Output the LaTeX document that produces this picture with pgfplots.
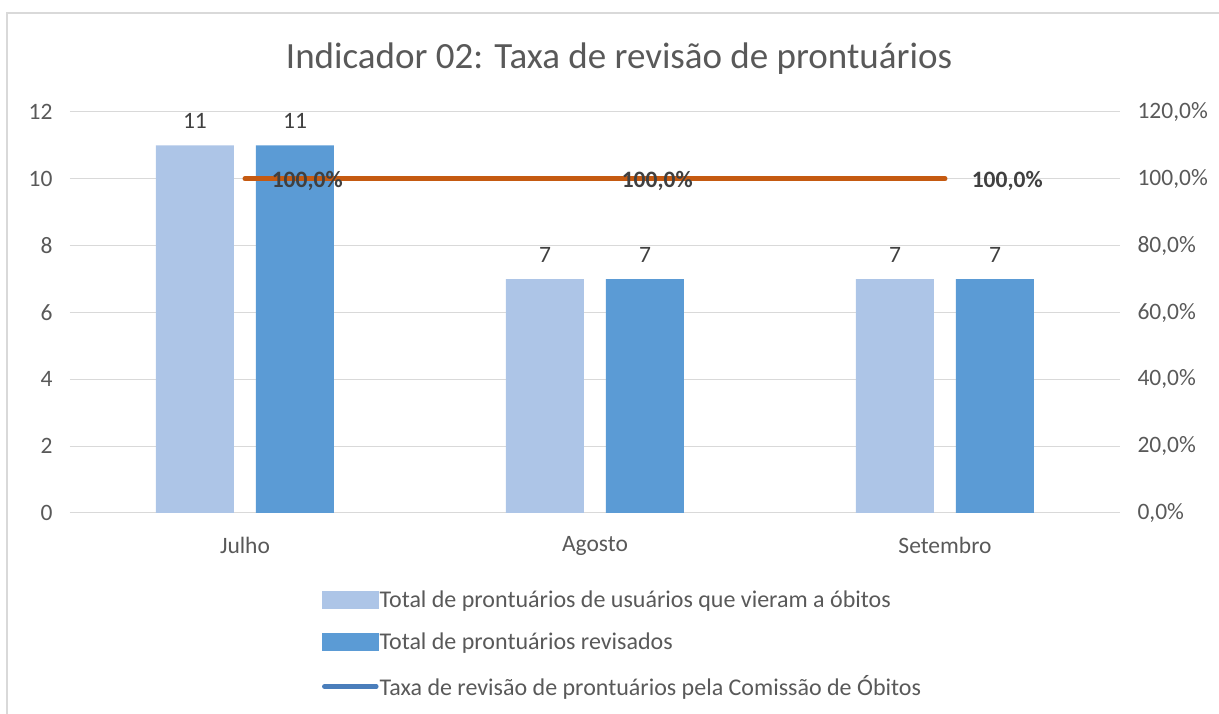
\documentclass[border=0pt]{standalone}
\usepackage{pgfplots}
\pgfplotsset{compat=1.18}
\usepackage{fontspec}
\setmainfont{Carlito}
\definecolor{txt}{HTML}{595959}
\definecolor{lbl}{HTML}{404040}
\definecolor{barA}{HTML}{ADC5E7}
\definecolor{barB}{HTML}{5B9BD5}
\definecolor{lineC}{HTML}{C55A11}
\definecolor{legC}{HTML}{4A7EBB}
\definecolor{grd}{HTML}{D9D9D9}
\begin{document}
\begin{tikzpicture}[x=1pt,y=1pt]
\path[use as bounding box] (0,0) rectangle (1219,714);
\draw[grd, line width=1.5pt] (7,0) -- (7,701) -- (1219,701);
\node[text=txt, font=\fontsize{37}{42}\selectfont] at (619,655) {Indicador 02: Taxa de revisão de prontuários};
\begin{axis}[
  at={(70pt,201pt)}, anchor=south west, scale only axis,
  width=1050pt, height=401pt,
  xmin=-0.5, xmax=2.5, ymin=0, ymax=12,
  ybar=22pt, bar width=78pt,
  xtick={0,1,2}, xticklabels={Julho,Agosto,Setembro},
  ytick={0,2,4,6,8,10,12}, yticklabels={0,2,4,6,8,10,12},
  axis line style={draw=none}, tick style={draw=none},
  ymajorgrids, major grid style={grd, line width=1pt},
  ticklabel style={font=\fontsize{23.5}{28}\selectfont, text=txt},
  xticklabel style={yshift=-16pt},
  yticklabel style={xshift=-14pt},
  nodes near coords={\pgfmathprintnumber[assume math mode=true]{\pgfplotspointmeta}},
  nodes near coords align=vertical,
  every node near coord/.append style={font=\fontsize{23.5}{28}\selectfont, text=lbl, yshift=13pt},
]
\addplot[fill=barA, draw=none] coordinates {(0,11) (1,7) (2,7)};
\addplot[fill=barB, draw=none] coordinates {(0,11) (1,7) (2,7)};
\end{axis}
\begin{axis}[
  at={(70pt,201pt)}, anchor=south west, scale only axis,
  width=1050pt, height=401pt,
  xmin=-0.5, xmax=2.5, ymin=0, ymax=120,
  axis x line=none, axis y line*=right,
  axis line style={draw=none}, tick style={draw=none},
  ytick={0,20,40,60,80,100,120},
  yticklabels={{0,0\%},{20,0\%},{40,0\%},{60,0\%},{80,0\%},{100,0\%},{120,0\%}},
  ticklabel style={font=\fontsize{23.5}{28}\selectfont, text=txt},
  yticklabel style={xshift=14pt},
  legend style={draw=none, fill=none, at={(0.237,-0.185)}, anchor=north west,
    font=\fontsize{24}{28}\selectfont, text=txt, row sep=22.5pt,
    nodes={inner sep=1pt}},
  legend cell align=left,
]
\addlegendimage{legend image code/.code={\fill[barA] (0pt,-8.5pt) rectangle (56pt,8.5pt);}}
\addlegendentry{Total de prontuários de usuários que vieram a óbitos}
\addlegendimage{legend image code/.code={\fill[barB] (0pt,-8.5pt) rectangle (56pt,8.5pt);}}
\addlegendentry{Total de prontuários revisados}
\addlegendimage{legend image code/.code={\draw[legC, line width=4.5pt, line cap=round] (2pt,0pt) -- (54pt,0pt);}}
\addlegendentry{Taxa de revisão de prontuários pela Comissão de Óbitos}
\addplot[lineC, line width=5pt, line cap=round, mark=none, forget plot,
  nodes near coords={\pgfmathprintnumber[fixed,fixed zerofill,precision=1,use comma,assume math mode=true]{\pgfplotspointmeta}\%},
  every node near coord/.style={anchor=west, xshift=21pt, yshift=-2pt, font=\bfseries\fontsize{23.5}{28}\selectfont, text=lbl}]
  coordinates {(0,100) (1,100) (2,100)};
\end{axis}
\end{tikzpicture}
\end{document}
